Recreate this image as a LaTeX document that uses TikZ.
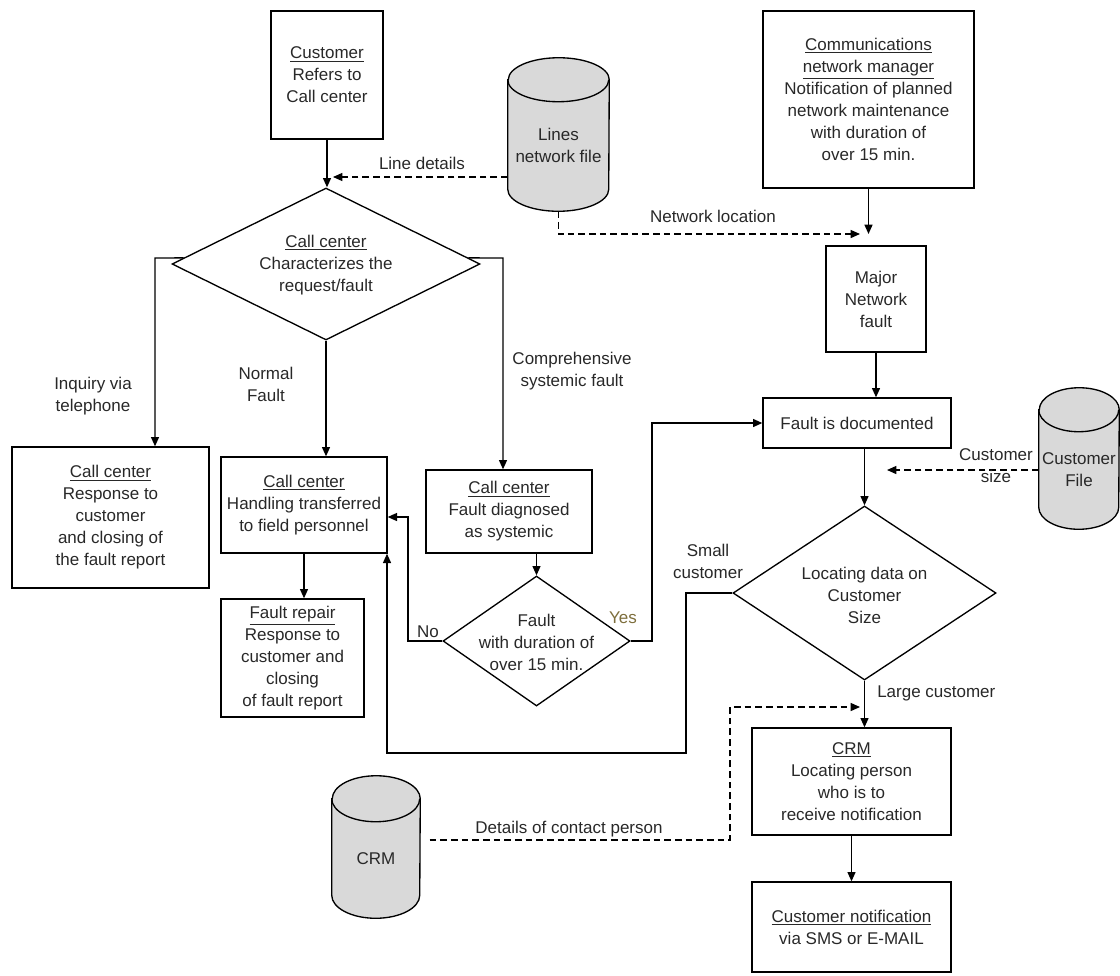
\documentclass[tikz,border=0pt]{standalone}
\usepackage{fontspec}
\setmainfont{Liberation Sans}
\usetikzlibrary{arrows.meta,shapes.geometric,calc,backgrounds}
\definecolor{txtc}{RGB}{40,40,40}
\definecolor{cylc}{RGB}{217,217,217}
\definecolor{yesc}{RGB}{125,110,60}
\newcommand\cylbody[3]{%
  \filldraw[fill=cylc,draw=black,line width=1pt] (#1.north west) -- ([yshift=#3]#1.south west)
    arc[start angle=180,end angle=360,x radius=#2,y radius=#3] -- (#1.north east)
    arc[start angle=0,end angle=180,x radius=#2,y radius=#3] -- cycle;
  \draw[line width=1pt] (#1.north west) arc[start angle=180,end angle=360,x radius=#2,y radius=#3];}
\begin{document}
\begin{tikzpicture}[x=0.75pt,y=-0.75pt,
  every node/.style={font=\fontsize{12.75pt}{16.5pt}\selectfont, text=txtc, align=center, inner sep=0pt},
  box/.style 2 args={draw=black, line width=1pt, rectangle, minimum width=#1*0.75pt, minimum height=#2*0.75pt},
  dia/.style 2 args={draw=black, line width=1pt, diamond, minimum width=#1*0.75pt, minimum height=#2*0.75pt},
  cylnode/.style 2 args={rectangle, minimum width=#1*0.75pt, minimum height=#2*0.75pt},
  arr/.style={-{Triangle[length=7pt,width=6pt]}, line width=1pt, draw=black},
  dsh/.style={arr, dash pattern=on 5pt off 3pt}]
\useasboundingbox (0,0) rectangle (1120,975);

% boxes
\node[box={112}{128}] (cust) at (327,75) {\underline{Customer}\\Refers to\\Call center};
\node[box={211}{177}] (comm) at (868.5,99.5) {\underline{Communications}\\\underline{network manager}\\Notification of planned\\network maintenance\\with duration of\\over 15 min.};
\node[box={100}{106}] (major) at (876,299) {Major\\Network\\fault};
\node[dia={308}{152}] (d1) at (326,264) {};
\node (d1t) at (326,265) {\underline{Call center}\\Characterizes the\\request/fault};
\node[box={197}{141}] (lb) at (110.5,517.5) {\underline{Call center}\\Response to\\customer\\and closing of\\the fault report};
\node[box={166}{96}] (hand) at (304,505) {\underline{Call center}\\Handling transferred\\to field personnel};
\node[box={166}{83}] (fdiag) at (509,511.5) {\underline{Call center}\\Fault diagnosed\\as systemic};
\node[dia={187}{130}] (fd) at (536.5,641) {};
\node (fdt) at (536.5,642) {Fault\\with duration of\\over 15 min.};
\node[box={143}{118}] (frep) at (292.5,658) {\underline{Fault repair}\\Response to\\customer and\\closing\\of fault report};
\node[box={188}{50}] (fdoc) at (857,423) {Fault is documented};
\node[dia={263}{174}] (loc) at (864.5,593) {};
\node (loct) at (864.5,595) {Locating data on\\Customer\\Size};
\node[box={199}{107}] (crmb) at (851.5,781.5) {\underline{CRM}\\Locating person\\who is to\\receive notification};
\node[box={199}{90}] (notif) at (851.5,927) {\underline{Customer notification}\\via SMS or E-MAIL};

% cylinders
\node[cylnode={101}{131}] (lnf) at (558.5,145.5) {Lines\\network file};
\node[cylnode={80}{119}] (cf) at (1079,469.5) {Customer\\File};
\node[cylnode={88}{119}] (crmdb) at (376,858.5) {CRM};
\begin{scope}[on background layer]
\cylbody{lnf}{37.875pt}{16.5pt}
\cylbody{cf}{30pt}{16.5pt}
\cylbody{crmdb}{33pt}{17.25pt}
\end{scope}

% connectors top
\draw[arr] (cust.south) -- (cust.south |- d1.north);
\coordinate (j1) at (333,177);
\draw[dsh] (lnf.west |- j1) -- (j1);
\node (ldl) at (422,163) {Line details};
\coordinate (j2) at (860,234);
\draw[dsh] (lnf.south) |- (j2);
\node (nll) at (713,216) {Network location};
\draw[arr] (comm.south) -- (comm.south |- j2);
\draw[arr] (major.south) -- (major.south |- fdoc.north);
\draw[arr] (loc.north |- fdoc.south) -- (loc.north);
\coordinate (j4) at (887,470);
\draw[dsh] (cf.west |- j4) -- (j4);
\node (csl) at (996,466) {Customer\\size};
\draw[arr] (loc.south) -- (loc.south |- crmb.north);
\node[anchor=west] (lcl) at (877,693) {Large customer};
\coordinate (j5) at (730,840);
\coordinate (j6) at (860,707);
\draw[dsh, shorten <=7pt] (crmdb.east |- j5) -- (j5) |- (j6);
\node (dcl) at (569,829) {Details of contact person};
\draw[arr] (crmb.south) -- (notif.north);

% diamond branches
\coordinate (bl) at (155,258);
\coordinate (br) at (503,258);
\draw[arr] ($(d1.west)!0.08!(d1.north)$) -- (bl) -- (bl |- lb.north);
\draw[arr] ($(d1.east)!0.08!(d1.north)$) -- (br) -- (br |- fdiag.north);
\draw[arr] (d1.south) -- (d1.south |- hand.north);
\node (inq) at (93,396) {Inquiry via\\telephone};
\node (nfl) at (266,384) {Normal\\Fault};
\node (csf) at (572,371) {Comprehensive\\systemic fault};
\draw[arr] (hand.south) -- (hand.south |- frep.north);
\draw[arr] (fd.north |- fdiag.south) -- (fd.north);
\coordinate (nb) at (408,517);
\draw[arr] (fd.west) -| (nb) -- (nb -| hand.east);
\node (nol) at (428,632) {No};
\coordinate (yb) at (652,423);
\draw[arr] (fd.east) -| (yb) -- (fdoc.west);
\node[text=yesc] (yesl) at (623,618) {Yes};
\coordinate (s1) at (686,753);
\coordinate (s2) at (387,753);
\draw[arr] (loc.west) -| (s1) -- (s2) -- (s2 |- hand.south);
\node (scl) at (708,561) {Small\\customer};
\end{tikzpicture}
\end{document}
